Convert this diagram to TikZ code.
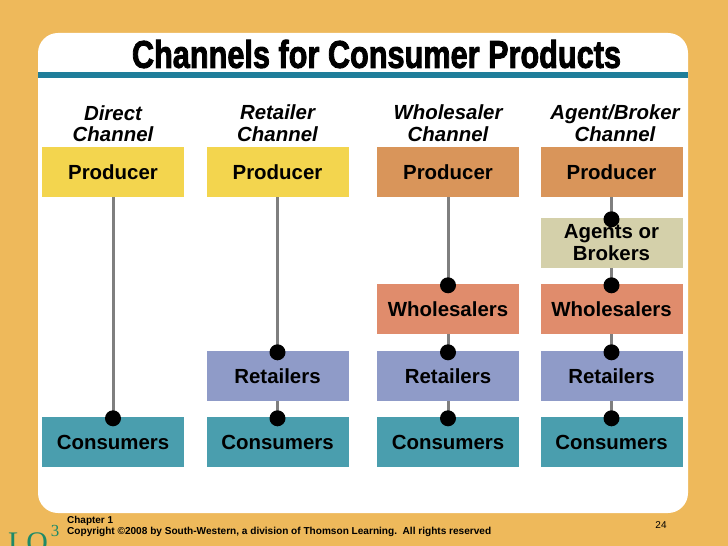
\documentclass[tikz,border=0pt]{standalone}
\usepackage{fontspec}
\setmainfont{Liberation Sans}
\newfontfamily\serifLO{Liberation Serif}
\newfontfamily\titlefont[FakeBold=2.5]{Liberation Sans Bold}
\usepackage{graphicx}
\definecolor{bgorange}{HTML}{EEB95B}
\definecolor{tealline}{HTML}{1F7E9A}
\definecolor{prodyellow}{HTML}{F3D54E}
\definecolor{prodorange}{HTML}{D9955A}
\definecolor{agentkhaki}{HTML}{D4D0AA}
\definecolor{wholesalmon}{HTML}{E08C6C}
\definecolor{retailblue}{HTML}{8F9BC8}
\definecolor{consteal}{HTML}{4A9EAE}
\definecolor{conngray}{HTML}{7F7F7F}
\definecolor{logreen}{HTML}{1E8A68}
\tikzset{
  boxnode/.style={minimum width=142bp, minimum height=50bp, inner sep=0pt,
    font=\fontsize{20.5}{22}\selectfont\bfseries, align=center},
  headnode/.style={font=\fontsize{20.5}{21.5}\selectfont\bfseries\itshape, align=center, inner sep=0pt},
  conn/.style={draw=conngray, line width=3bp},
  dotmark/.style={fill=black},
}
\begin{document}
\begin{tikzpicture}[x=1bp,y=-1bp]
\useasboundingbox (0,0) rectangle (728,546);
\fill[bgorange] (0,0) rectangle (728,546);
\fill[white, rounded corners=20bp] (38,33) rectangle (688,513);
\fill[tealline] (38,72) rectangle (688,78);
\node[inner sep=0pt] (title) at (376.5,54) {\resizebox{489bp}{28bp}{\titlefont Channels for Consumer Products}};

% headings
\node[headnode] (h1) at (113,123.5) {Direct\\Channel};
\node[headnode] (h2) at (277.5,123) {Retailer\\Channel};
\node[headnode] (h3) at (448,123) {Wholesaler\\Channel};
\node[headnode] (h4) at (615,123) {Agent/Broker\\Channel};

% column 1
\node[boxnode, fill=prodyellow] (p1) at (113,172) {Producer};
\node[boxnode, fill=consteal] (c1) at (113,442) {Consumers};
% column 2
\node[boxnode, fill=prodyellow] (p2) at (277.5,172) {Producer};
\node[boxnode, fill=retailblue] (r2) at (277.5,376) {Retailers};
\node[boxnode, fill=consteal] (c2) at (277.5,442) {Consumers};
% column 3
\node[boxnode, fill=prodorange] (p3) at (448,172) {Producer};
\node[boxnode, fill=wholesalmon] (w3) at (448,309) {Wholesalers};
\node[boxnode, fill=retailblue] (r3) at (448,376) {Retailers};
\node[boxnode, fill=consteal] (c3) at (448,442) {Consumers};
% column 4
\node[boxnode, fill=prodorange] (p4) at (611.5,172) {Producer};
\node[boxnode, fill=agentkhaki] (a4) at (611.5,243) {Agents or\\Brokers};
\node[boxnode, fill=wholesalmon] (w4) at (611.5,309) {Wholesalers};
\node[boxnode, fill=retailblue] (r4) at (611.5,376) {Retailers};
\node[boxnode, fill=consteal] (c4) at (611.5,442) {Consumers};

% connectors
\foreach \a/\b in {p1/c1, p2/r2, r2/c2, p3/w3, w3/r3, r3/c3, p4/a4, a4/w4, w4/r4, r4/c4}{
  \draw[conn] (\a.south) -- (\b.north);
  \fill[dotmark] ([yshift=-1.5bp]\b.north) circle (8bp);
}

% footer
\node[anchor=west, inner sep=0pt, font=\fontsize{10}{12}\selectfont\bfseries] (chap) at (67,521) {Chapter 1};
\node[anchor=west, inner sep=0pt] (copy) at (67,532) {\resizebox{424bp}{!}{\fontsize{10}{12}\selectfont\bfseries Copyright \textcopyright2008 by South-Western, a division of Thomson Learning.\ \ All rights reserved}};
\node[inner sep=0pt, font=\fontsize{10}{12}\selectfont] (page) at (661,525) {24};
\node[anchor=base west, inner sep=0pt, text=logreen, font=\fontsize{30}{32}\selectfont\serifLO] (lo) at (8,552) {LO};
\node[inner sep=0pt, text=logreen, font=\fontsize{17}{18}\selectfont\serifLO] (lothree) at (55,531) {3};
\end{tikzpicture}
\end{document}
